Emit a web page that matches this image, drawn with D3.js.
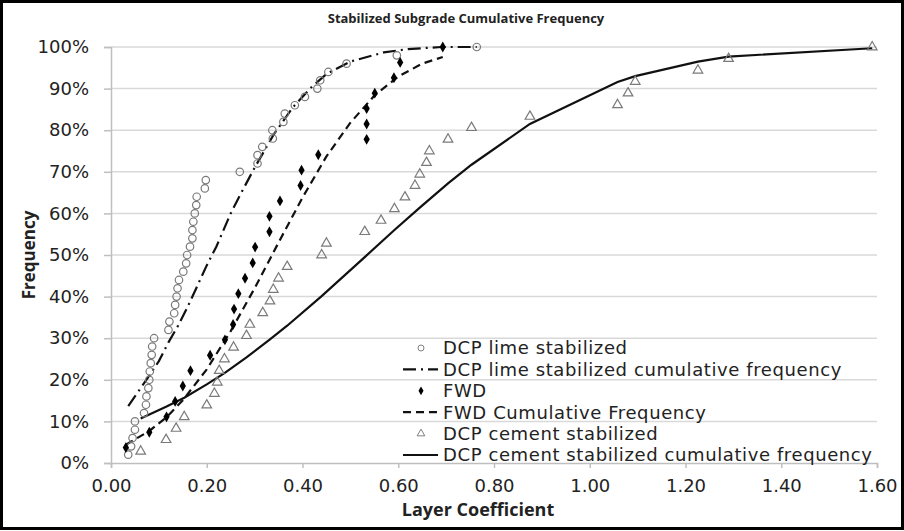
<!DOCTYPE html>
<html>
<head>
<meta charset="utf-8">
<script src="https://cdn.jsdelivr.net/npm/d3@7"></script>
<style>
  body { margin: 0; background: #fff; }
  svg { display: block; font-family: "DejaVu Sans", "Open Sans", sans-serif; }
</style>
</head>
<body>
<div id="chart"></div>
<script>
// DCP lime stabilized points (layer coefficient, frequency %)
const limeX = [0.036, 0.042, 0.045, 0.05, 0.05, 0.069, 0.073, 0.074, 0.078, 0.08,
    0.081, 0.083, 0.085, 0.086, 0.09, 0.12, 0.122, 0.132, 0.134, 0.137,
    0.139, 0.142, 0.151, 0.157, 0.159, 0.165, 0.17, 0.17, 0.172, 0.175,
    0.178, 0.179, 0.196, 0.198, 0.269, 0.306, 0.306, 0.316, 0.338, 0.337,
    0.36, 0.363, 0.384, 0.405, 0.431, 0.437, 0.454, 0.492, 0.597, 0.764]
const limeF = [2, 4, 6, 8, 10, 12, 14, 16, 18, 20,
    22, 24, 26, 28, 30, 32, 34, 36, 38, 40,
    42, 44, 46, 48, 50, 52, 54, 56, 58, 60,
    62, 64, 66, 68, 70, 72, 74, 76, 78, 80,
    82, 84, 86, 88, 90, 92, 94, 96, 98, 100]
// DCP lime cumulative frequency curve
const limeCumX = [0.036, 0.05, 0.08, 0.10, 0.12, 0.14, 0.16, 0.18, 0.20, 0.22, 0.25,
    0.27, 0.30, 0.34, 0.38, 0.42, 0.45, 0.50, 0.57, 0.62, 0.69, 0.764]
const limeCumF = [13.7, 16, 21, 24.5, 29, 33, 37.5, 42.5, 47.5, 52, 60,
    64.5, 71, 79, 85.5, 90.5, 93.5, 96.5, 98.7, 99.5, 100, 100]

// FWD points
const fwdX = [0.031, 0.08, 0.116, 0.134, 0.15, 0.166, 0.207, 0.238, 0.255, 0.257,
    0.266, 0.28, 0.296, 0.301, 0.331, 0.331, 0.353, 0.396, 0.398, 0.433,
    0.534, 0.534, 0.534, 0.551, 0.591, 0.604, 0.693]
const fwdF = [3.7, 7.4, 11.1, 14.8, 18.5, 22.2, 25.9, 29.6, 33.3, 37.0,
    40.7, 44.4, 48.1, 51.9, 55.6, 59.3, 63.0, 66.7, 70.4, 74.1,
    77.8, 81.5, 85.2, 88.9, 92.6, 96.3, 100]
// FWD cumulative frequency curve
const fwdCumX = [0.031, 0.08, 0.116, 0.15, 0.2, 0.25, 0.3, 0.35, 0.4, 0.45, 0.5, 0.55, 0.6, 0.65, 0.693]
const fwdCumF = [4.4, 7.7, 11, 15.1, 22.5, 31.7, 42, 53, 63.8, 73.7, 81.8, 88.3, 92.9, 96, 97.6]

// DCP cement stabilized points
const cemX = [0.062, 0.115, 0.136, 0.153, 0.2, 0.216, 0.222, 0.226, 0.237, 0.256,
    0.283, 0.29, 0.317, 0.332, 0.339, 0.35, 0.368, 0.44, 0.45, 0.53,
    0.564, 0.592, 0.614, 0.635, 0.645, 0.659, 0.665, 0.704, 0.753, 0.875,
    1.058, 1.08, 1.095, 1.226, 1.29, 1.59]
const cemF = [2.8, 5.6, 8.3, 11.1, 13.9, 16.7, 19.4, 22.2, 25.0, 27.8,
    30.6, 33.3, 36.1, 38.9, 41.7, 44.4, 47.2, 50.0, 52.8, 55.6,
    58.3, 61.1, 63.9, 66.7, 69.4, 72.2, 75.0, 77.8, 80.6, 83.3,
    86.1, 88.9, 91.7, 94.4, 97.2, 100]
// DCP cement cumulative frequency curve
const cemCumX = [0.062, 0.115, 0.153, 0.2, 0.237, 0.283, 0.332, 0.368, 0.44, 0.53,
    0.592, 0.645, 0.704, 0.753, 0.875, 1.058, 1.095, 1.226, 1.29, 1.59]
const cemCumF = [10.7, 13.5, 15.7, 18.9, 21.6, 25.4, 29.7, 33, 40.1, 49.5,
    56, 61.4, 67.2, 71.7, 81.5, 91.6, 93, 96.5, 97.7, 99.7]

const xTicks = [0, 0.2, 0.4, 0.6, 0.8, 1.0, 1.2, 1.4, 1.6]
const yTicks = [0, 10, 20, 30, 40, 50, 60, 70, 80, 90, 100]

const legendLabels = ["DCP lime stabilized", "DCP lime stabilized cumulative frequency",
    "FWD", "FWD Cumulative Frequency", "DCP cement stabilized",
    "DCP cement stabilized cumulative frequency"]

const width = 904, height = 531
const plot = { left: 111, right: 877, top: 47, bottom: 463 }
const bodyFont = "'DejaVu Sans', sans-serif"
const titleFont = "'Open Sans', sans-serif"

const svg = d3.select("#chart").append("svg")
    .attr("width", width)
    .attr("height", height)

// outer frame
svg.append("rect")
    .attr("x", 1.5).attr("y", 1.5)
    .attr("width", width - 3).attr("height", height - 4)
    .attr("fill", "#fff")
    .attr("stroke", "#000")
    .attr("stroke-width", 3)

const x = d3.scaleLinear().domain([0, 1.6]).range([plot.left, plot.right])
const y = d3.scaleLinear().domain([0, 100]).range([plot.bottom, plot.top])

// gridlines
svg.append("g")
    .selectAll("line")
    .data(yTicks.filter(d => d > 0))
    .join("line")
    .attr("x1", plot.left).attr("x2", plot.right)
    .attr("y1", d => y(d)).attr("y2", d => y(d))
    .attr("stroke", "#d9d9d9")
    .attr("stroke-width", 1.5)

// y axis
const yAxis = svg.append("g")
    .attr("transform", `translate(${plot.left},0)`)
    .call(d3.axisLeft(y).tickValues(yTicks).tickFormat(d => d + "%").tickSize(7).tickPadding(15))
yAxis.select(".domain").attr("stroke", "#bfbfbf").attr("stroke-width", 1.5)
yAxis.selectAll(".tick line").attr("stroke", "#bfbfbf").attr("stroke-width", 1.5)
yAxis.selectAll("text").attr("font-size", 18).attr("fill", "#222").attr("font-family", bodyFont)

// x axis
const xAxis = svg.append("g")
    .attr("transform", `translate(0,${plot.bottom})`)
    .call(d3.axisBottom(x).tickValues(xTicks).tickFormat(d3.format(".2f")).tickSize(5).tickPadding(11))
xAxis.select(".domain").attr("stroke", "#bfbfbf").attr("stroke-width", 1.5)
xAxis.selectAll(".tick line").attr("stroke", "#bfbfbf").attr("stroke-width", 1.5)
xAxis.selectAll("text").attr("font-size", 18).attr("fill", "#222").attr("font-family", bodyFont)

// titles
svg.append("text")
    .attr("x", 466).attr("y", 23)
    .attr("text-anchor", "middle")
    .attr("font-family", titleFont)
    .attr("font-size", 13).attr("font-weight", "bold").attr("fill", "#222")
    .text("Stabilized Subgrade Cumulative Frequency")
svg.append("text")
    .attr("x", 478).attr("y", 516)
    .attr("text-anchor", "middle")
    .attr("font-family", titleFont)
    .attr("font-size", 18).attr("font-weight", "bold").attr("fill", "#222")
    .text("Layer Coefficient")
svg.append("text")
    .attr("transform", "translate(35,255) rotate(-90)")
    .attr("text-anchor", "middle")
    .attr("font-family", titleFont)
    .attr("font-size", 17).attr("font-weight", "bold").attr("fill", "#222")
    .text("Frequency")

const line = d3.line().x(d => x(d[0])).y(d => y(d[1]))
const zip = (a, b) => a.map((v, i) => [v, b[i]])

const lineStyles = [
    { dash: "13,5,2,5" },
    { dash: "8,5" },
    { dash: null }
]

// cumulative frequency lines
const curves = [zip(limeCumX, limeCumF), zip(fwdCumX, fwdCumF), zip(cemCumX, cemCumF)]
curves.forEach((c, i) => {
    svg.append("path")
        .attr("d", line(c))
        .attr("fill", "none")
        .attr("stroke", "#111")
        .attr("stroke-width", 2.2)
        .attr("stroke-dasharray", lineStyles[i].dash)
})

const circleSym = d3.symbol(d3.symbolCircle, 44)
const diamondSym = d3.symbol(d3.symbolDiamond, 34)
const triSym = d3.symbol(d3.symbolTriangle, 40)

const drawPoints = (xs, fs, sym, fill, stroke) => {
    svg.append("g")
        .selectAll("path")
        .data(zip(xs, fs))
        .join("path")
        .attr("transform", d => `translate(${x(d[0])},${y(d[1])})`)
        .attr("d", sym)
        .attr("fill", fill)
        .attr("stroke", stroke)
        .attr("stroke-width", 1.2)
}
drawPoints(limeX, limeF, circleSym, "none", "#7a7a7a")
drawPoints(fwdX, fwdF, diamondSym, "#000", "none")
drawPoints(cemX, cemF, triSym, "none", "#7a7a7a")

// legend
const lg = svg.append("g").attr("transform", "translate(403,348)")
const rowH = 21.4
legendLabels.forEach((label, i) => {
    const row = lg.append("g").attr("transform", `translate(0,${i * rowH})`)
    if (i % 2 === 0) {
        const sym = [circleSym, diamondSym, triSym][i / 2]
        row.append("path")
            .attr("transform", "translate(18,0) scale(0.8)")
            .attr("d", sym)
            .attr("fill", i === 2 ? "#000" : "none")
            .attr("stroke", i === 2 ? "none" : "#7a7a7a")
            .attr("stroke-width", 1.2)
    } else {
        row.append("line")
            .attr("x1", 0).attr("x2", 35)
            .attr("stroke", "#111")
            .attr("stroke-width", 2.2)
            .attr("stroke-dasharray", lineStyles[(i - 1) / 2].dash)
    }
    row.append("text")
        .attr("x", 40)
        .attr("dy", "0.35em")
        .attr("font-family", bodyFont)
        .attr("font-size", 18)
        .attr("letter-spacing", 0.6)
        .attr("fill", "#222")
        .text(label)
})
</script>
</body>
</html>
